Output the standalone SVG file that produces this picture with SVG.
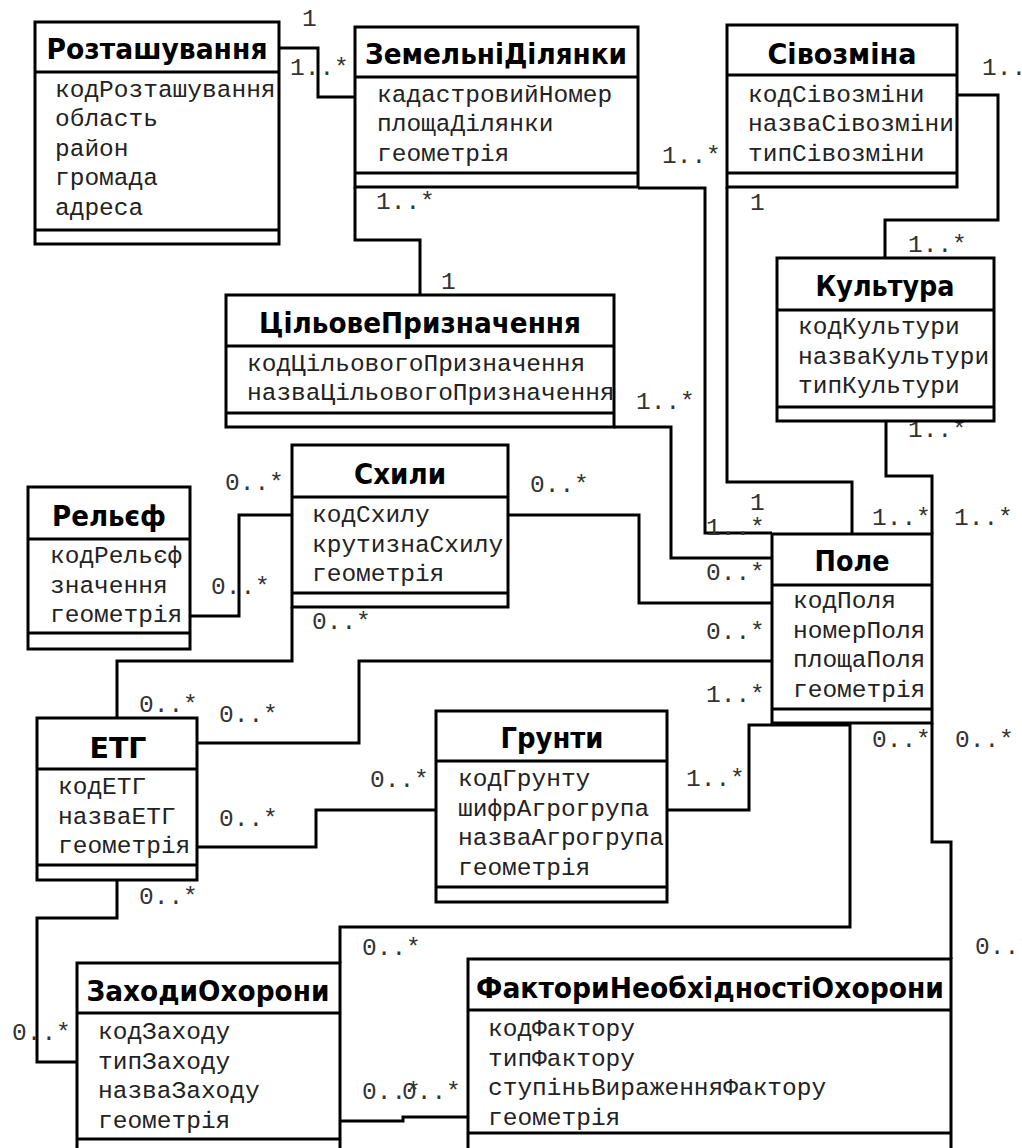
<svg xmlns="http://www.w3.org/2000/svg" width="1022" height="1148" viewBox="0 0 1022 1148">
<style>
.box{fill:#fff;stroke:#000;stroke-width:3}
.sep{stroke:#000;stroke-width:3}
.ttl{font-family:"DejaVu Sans","Liberation Sans",sans-serif;font-weight:bold;font-size:29px;text-anchor:middle;fill:#000}
.att{font-family:"Liberation Mono","Courier New",monospace;font-size:24.5px;fill:#222}
.lbl{font-family:"Liberation Mono","Courier New",monospace;font-size:24.5px;fill:#333}
.con{fill:none;stroke:#000;stroke-width:3}
</style>
<rect width="1022" height="1148" fill="#fff"/>
<g id="connectors">
<path class="con" d="M279,48 H318 V97 H355"/>
<path class="con" d="M355,187 V240 H420 V295"/>
<path class="con" d="M638,188 H705 V533 H772"/>
<path class="con" d="M727,187 V482 H852 V534"/>
<path class="con" d="M957,95 H998 V220 H885 V258"/>
<path class="con" d="M886,421 V476 H932 V534"/>
<path class="con" d="M614,427 H671 V558 H772"/>
<path class="con" d="M508,515 H639 V603 H772"/>
<path class="con" d="M190,616 H239 V515 H292"/>
<path class="con" d="M117,718 V661 H292 V607"/>
<path class="con" d="M197,743 H359 V661 H772"/>
<path class="con" d="M197,847 H316 V810 H436"/>
<path class="con" d="M667,810 H749 V725 H772"/>
<path class="con" d="M772,725 H850 V927 H340 V963"/>
<path class="con" d="M932,723 V842 H951 V959"/>
<path class="con" d="M117,880 V918 H37 V1062 H77"/>
<path class="con" d="M340,1121 H403 V1117 H468"/>
<text class="lbl" x="302" y="26">1</text>
<text class="lbl" x="290" y="75">1..*</text>
<text class="lbl" x="376" y="209">1..*</text>
<text class="lbl" x="441" y="289">1</text>
<text class="lbl" x="662" y="163">1..*</text>
<text class="lbl" x="750" y="210">1</text>
<text class="lbl" x="982" y="75">1..*</text>
<text class="lbl" x="908" y="252">1..*</text>
<text class="lbl" x="908" y="437">1..*</text>
<text class="lbl" x="636" y="409">1..*</text>
<text class="lbl" x="225" y="490">0..*</text>
<text class="lbl" x="211" y="594">0..*</text>
<text class="lbl" x="312" y="629">0..*</text>
<text class="lbl" x="530" y="492">0..*</text>
<text class="lbl" x="750" y="510">1</text>
<text class="lbl" x="706" y="535">1..*</text>
<text class="lbl" x="872" y="525">1..*</text>
<text class="lbl" x="954" y="525">1..*</text>
<text class="lbl" x="706" y="580">0..*</text>
<text class="lbl" x="706" y="639">0..*</text>
<text class="lbl" x="706" y="702">1..*</text>
<text class="lbl" x="872" y="747">0..*</text>
<text class="lbl" x="955" y="747">0..*</text>
<text class="lbl" x="686" y="786">1..*</text>
<text class="lbl" x="370" y="787">0..*</text>
<text class="lbl" x="219" y="722">0..*</text>
<text class="lbl" x="139" y="712">0..*</text>
<text class="lbl" x="219" y="826">0..*</text>
<text class="lbl" x="139" y="904">0..*</text>
<text class="lbl" x="12" y="1040">0..*</text>
<text class="lbl" x="362" y="955">0..*</text>
<text class="lbl" x="362" y="1099">0..*</text>
<text class="lbl" x="402" y="1099">0..*</text>
<text class="lbl" x="975" y="954">0..*</text>
</g>
<g id="rozt">
<rect class="box" x="35" y="22" width="244" height="222"/>
<line class="sep" x1="35" y1="72" x2="279" y2="72"/><line class="sep" x1="35" y1="230" x2="279" y2="230"/>
<text class="ttl" x="157" y="59" textLength="221" lengthAdjust="spacingAndGlyphs">Розташування</text>
<text class="att" x="55" y="97">кодРозташування</text>
<text class="att" x="55" y="126">область</text>
<text class="att" x="55" y="156">район</text>
<text class="att" x="55" y="185">громада</text>
<text class="att" x="55" y="215">адреса</text>
</g>
<g id="zemdil">
<rect class="box" x="355" y="27" width="283" height="160"/>
<line class="sep" x1="355" y1="77" x2="638" y2="77"/><line class="sep" x1="355" y1="173" x2="638" y2="173"/>
<text class="ttl" x="496" y="64" textLength="262" lengthAdjust="spacingAndGlyphs">ЗемельніДілянки</text>
<text class="att" x="377" y="102">кадастровийНомер</text>
<text class="att" x="377" y="131">площаДілянки</text>
<text class="att" x="377" y="161">геометрія</text>
</g>
<g id="sivozmina">
<rect class="box" x="727" y="25" width="230" height="162"/>
<line class="sep" x1="727" y1="75" x2="957" y2="75"/><line class="sep" x1="727" y1="173" x2="957" y2="173"/>
<text class="ttl" x="842" y="64" textLength="149" lengthAdjust="spacingAndGlyphs">Сівозміна</text>
<text class="att" x="748" y="102">кодСівозміни</text>
<text class="att" x="748" y="131">назваСівозміни</text>
<text class="att" x="748" y="161">типСівозміни</text>
</g>
<g id="kultura">
<rect class="box" x="777" y="258" width="217" height="163"/>
<line class="sep" x1="777" y1="310" x2="994" y2="310"/><line class="sep" x1="777" y1="407" x2="994" y2="407"/>
<text class="ttl" x="885" y="296" textLength="139" lengthAdjust="spacingAndGlyphs">Культура</text>
<text class="att" x="798" y="334">кодКультури</text>
<text class="att" x="798" y="364">назваКультури</text>
<text class="att" x="798" y="393">типКультури</text>
</g>
<g id="tsilove">
<rect class="box" x="226" y="295" width="388" height="132"/>
<line class="sep" x1="226" y1="346" x2="614" y2="346"/><line class="sep" x1="226" y1="413" x2="614" y2="413"/>
<text class="ttl" x="420" y="333" textLength="322" lengthAdjust="spacingAndGlyphs">ЦільовеПризначення</text>
<text class="att" x="247" y="371">кодЦільовогоПризначення</text>
<text class="att" x="247" y="400">назваЦільовогоПризначення</text>
</g>
<g id="skhyly">
<rect class="box" x="292" y="445" width="216" height="162"/>
<line class="sep" x1="292" y1="497" x2="508" y2="497"/><line class="sep" x1="292" y1="593" x2="508" y2="593"/>
<text class="ttl" x="400" y="484" textLength="92" lengthAdjust="spacingAndGlyphs">Схили</text>
<text class="att" x="312" y="522">кодСхилу</text>
<text class="att" x="312" y="552">крутизнаСхилу</text>
<text class="att" x="312" y="581">геометрія</text>
</g>
<g id="relief">
<rect class="box" x="28" y="487" width="162" height="162"/>
<line class="sep" x1="28" y1="539" x2="190" y2="539"/><line class="sep" x1="28" y1="633" x2="190" y2="633"/>
<text class="ttl" x="109" y="526" textLength="114" lengthAdjust="spacingAndGlyphs">Рельєф</text>
<text class="att" x="50" y="563">кодРельєф</text>
<text class="att" x="50" y="593">значення</text>
<text class="att" x="50" y="622">геометрія</text>
</g>
<g id="pole">
<rect class="box" x="772" y="534" width="160" height="189"/>
<line class="sep" x1="772" y1="585" x2="932" y2="585"/><line class="sep" x1="772" y1="709" x2="932" y2="709"/>
<text class="ttl" x="852" y="571" textLength="75" lengthAdjust="spacingAndGlyphs">Поле</text>
<text class="att" x="793" y="608">кодПоля</text>
<text class="att" x="793" y="638">номерПоля</text>
<text class="att" x="793" y="667">площаПоля</text>
<text class="att" x="793" y="697">геометрія</text>
</g>
<g id="etg">
<rect class="box" x="37" y="718" width="160" height="162"/>
<line class="sep" x1="37" y1="769" x2="197" y2="769"/><line class="sep" x1="37" y1="865" x2="197" y2="865"/>
<text class="ttl" x="118" y="758" textLength="57" lengthAdjust="spacingAndGlyphs">ЕТГ</text>
<text class="att" x="58" y="794">кодЕТГ</text>
<text class="att" x="58" y="824">назваЕТГ</text>
<text class="att" x="58" y="853">геометрія</text>
</g>
<g id="grunty">
<rect class="box" x="436" y="711" width="231" height="191"/>
<line class="sep" x1="436" y1="761" x2="667" y2="761"/><line class="sep" x1="436" y1="887" x2="667" y2="887"/>
<text class="ttl" x="552" y="748" textLength="103" lengthAdjust="spacingAndGlyphs">Грунти</text>
<text class="att" x="458" y="786">кодГрунту</text>
<text class="att" x="458" y="816">шифрАгрогрупа</text>
<text class="att" x="458" y="845">назваАгрогрупа</text>
<text class="att" x="458" y="875">геометрія</text>
</g>
<g id="zakhody">
<rect class="box" x="77" y="963" width="263" height="200"/>
<line class="sep" x1="77" y1="1013" x2="340" y2="1013"/><line class="sep" x1="77" y1="1139" x2="340" y2="1139"/>
<text class="ttl" x="208" y="1001" textLength="243" lengthAdjust="spacingAndGlyphs">ЗаходиОхорони</text>
<text class="att" x="98" y="1039">кодЗаходу</text>
<text class="att" x="98" y="1069">типЗаходу</text>
<text class="att" x="98" y="1098">назваЗаходу</text>
<text class="att" x="98" y="1128">геометрія</text>
</g>
<g id="faktory">
<rect class="box" x="468" y="959" width="483" height="204"/>
<line class="sep" x1="468" y1="1010" x2="951" y2="1010"/><line class="sep" x1="468" y1="1133" x2="951" y2="1133"/>
<text class="ttl" x="710" y="998" textLength="468" lengthAdjust="spacingAndGlyphs">ФакториНеобхідностіОхорони</text>
<text class="att" x="488" y="1036">кодФактору</text>
<text class="att" x="488" y="1066">типФактору</text>
<text class="att" x="488" y="1095">ступіньВираженняФактору</text>
<text class="att" x="488" y="1125">геометрія</text>
</g>
</svg>
